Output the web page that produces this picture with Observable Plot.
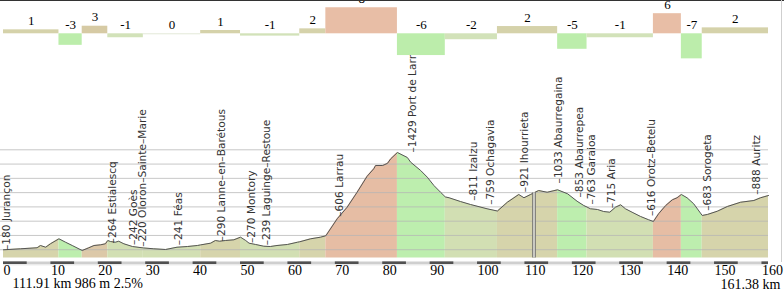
<!DOCTYPE html>
<html><head><meta charset="utf-8">
<script src="https://cdn.jsdelivr.net/npm/d3@7"></script>
<script src="https://cdn.jsdelivr.net/npm/@observablehq/plot@0.6"></script>
<style>
html,body{margin:0;padding:0;background:#fff;}
#wrap{position:relative;width:784px;height:292px;overflow:hidden;background:#fff;}
#wrap svg{position:absolute;left:0;top:0;}
.edge{position:absolute;}
</style></head><body><div id="wrap"></div>
<script>
// ---- profile (distance km, elevation m) ----
const profileKm = [0,3.6,7.1,7.8,8.9,9.9,11.7,13.1,14.5,16.6,18.0,19.1,20.5,21.5,22.0,22.6,23.6,24.3,25.4,27.2,29.5,31.7,34.2,36.6,38.8,40.9,41.6,43.7,44.7,45.6,46.8,48.6,50.0,51.1,51.8,53.2,54.9,56.3,57.7,59.9,62.0,62.5,64.8,66.9,68.0,70.4,72.5,74.6,76.7,78.1,78.5,80.0,81.0,81.7,83.1,85.2,85.9,88.0,89.4,90.8,92.2,93.2,94.0,96.4,98.5,102.0,104.2,106.3,108.7,109.8,111.2,112.9,114.7,116.9,119.0,121.0,122.4,123.1,123.8,125.3,126.6,127.9,129.1,130.2,131.2,132.6,134.4,136.1,137.1,138.2,139.7,141.1,142.1,143.0,144.2,145.6,147.4,148.5,150.6,152.7,155.5,158.3,159.7,161.38];
const profileElev = [182,195,208,237,215,259,323,279,237,173,208,237,246,259,301,288,279,292,259,224,206,195,186,215,224,237,245,267,301,292,301,310,344,301,267,250,228,224,237,250,279,285,323,344,362,580,728,920,1124,1220,1263,1263,1290,1349,1429,1365,1305,1199,1113,1006,920,860,849,801,763,708,679,792,891,849,891,942,920,951,900,805,750,730,708,699,673,664,728,759,708,664,609,567,545,644,750,823,849,891,849,772,622,635,677,737,792,814,849,878];

// ---- gradient segments ----
const segBounds = [0,11.7,16.6,22.0,29.5,41.6,50.0,62.5,68.0,83.1,93.2,104.2,116.9,123.1,137.1,143.0,147.4,161.38];
const segGrade  = [1.2,-3.5,2.3,-1.2,-0.3,1.0,-0.7,1.5,7.9,-6.6,-1.8,2.2,-4.7,-1.2,6.1,-7.6,1.8];
const segLabel  = [1,-3,3,-1,0,1,-1,2,8,-6,-2,2,-5,-1,6,-7,2];

// ---- places ----
const placeKm   = [0.6,23.0,27.5,29.4,37.0,46.0,52.3,55.4,70.9,86.3,99.1,102.8,109.9,117.0,121.5,124.0,128.3,136.7,148.6,158.9];
const placeElev = [180,264,242,220,241,290,270,239,606,1429,811,759,921,1033,853,763,715,616,683,888];
const placeName = ["Jurançon","Estialescq","Goès","Oloron–Sainte–Marie","Féas","Lanne–en–Barétous","Montory","Laguinge–Restoue","Larrau","Port de Larrau","Izalzu","Ochagavia","Ihourrieta","Abaurregaina","Abaurrepea","Garaioa","Aria","Orotz–Betelu","Sorogeta","Auritz"];

// ---- axes / grid / marker ----
const kmTicks = [0,10,20,30,40,50,60,70,80,90,100,110,120,130,140,150,160];
const gridElev = [183,366,549,732,915,1098,1281,1464];
const totalKm = 161.38;
const markerKm = 111.91, markerElev = 986, markerGrade = 2.5;
const floorElev = 77;

// bar colours by gradient class
function barColor(g) {
  if (g >= 5) return "#e8bea6";
  if (g <= -3) return "#bcedab";
  if (g >= 3) return "#d6caa4";
  if (g >= 1) return "#d5d2aa";
  if (g === 0) return "#e3e9d8";
  return "#d2e2b9";
}
// profile fill colours by gradient class
function fillColor(g) {
  if (g >= 5) return "#e6bda4";
  if (g <= -3) return "#bdeeae";
  if (g >= 3) return "#dcc8a8";
  if (g >= 1) return "#d6d4ab";
  return "#d2dfb3";
}

const profile = profileKm.map((k, i) => ({km: k, elev: profileElev[i]}));
const segments = segLabel.map((l, i) => ({start: segBounds[i], end: segBounds[i + 1], grade: segGrade[i], label: l}));
const places = placeKm.map((k, i) => ({km: k, elev: placeElev[i], name: placeName[i]}));
const elevAt = d3.scaleLinear(profileKm, profileElev);
const markerTop = elevAt(markerKm);

const serif = "Liberation Serif, Times New Roman, serif";

const areas = segments.map(s => Plot.areaY(
  profile.filter(p => p.km >= s.start && p.km <= s.end),
  {x: "km", y1: () => floorElev, y2: "elev", fill: fillColor(s.label)}
));

const profilePlot = Plot.plot({
  width: 784, height: 292,
  marginTop: 0, marginLeft: 0, marginRight: 16, marginBottom: 30,
  x: {domain: [0, totalKm], range: [3, 768], label: null},
  y: {domain: [0, 3378], range: [263.5, 0], axis: null, label: null},
  style: {background: "transparent", overflow: "visible"},
  marks: [
    ...areas,
    Plot.ruleY(gridElev, {stroke: "#b4b4b4", strokeOpacity: 0.75}),
    Plot.line(profile, {x: "km", y: "elev", stroke: "#555", strokeWidth: 1}),
    Plot.ruleX([markerKm], {y1: () => floorElev, y2: () => markerTop, stroke: "#707070", strokeWidth: 3.6}),
    Plot.ruleX([markerKm], {y1: () => floorElev, y2: () => markerTop, stroke: "#f0f0e6", strokeWidth: 1.4}),
    Plot.text(places, {x: "km", y: "elev", text: d => "–" + d.elev + " " + d.name,
      rotate: -90, textAnchor: "start", lineAnchor: "middle",
      fontSize: 10.6, fontFamily: "DejaVu Sans", fill: "#333"}),
    Plot.ruleY([0], {x1: () => 0, x2: () => totalKm, stroke: "#e2e2e2", strokeWidth: 1, dy: 0.8}),
    Plot.ruleY([0], {x1: () => 0, x2: () => totalKm, stroke: "#cfcfcf", strokeWidth: 2.6, dy: -1.3}),
    Plot.ruleY(kmTicks.filter(t => t < totalKm), {y: () => 0, x1: d => d, x2: d => Math.min(d + 5, totalKm), stroke: "#505050", strokeWidth: 2.6, dy: -1.3}),
    Plot.axisX({ticks: kmTicks, anchor: "bottom", tickSize: 0, tickPadding: 3, textAnchor: "start",
      fontSize: 14, fontFamily: serif, fill: "#000", label: null, tickFormat: d => String(d)}),
    Plot.text([`${markerKm} km ${markerElev} m ${markerGrade}%`], {frameAnchor: "bottom-left", textAnchor: "start",
      lineAnchor: "bottom", dx: 12, dy: 25, fontSize: 14, fontFamily: serif, fill: "#000"}),
    Plot.text([`${totalKm} km`], {frameAnchor: "bottom-right", textAnchor: "end",
      lineAnchor: "bottom", dx: 12, dy: 26, fontSize: 14, fontFamily: serif, fill: "#000"})
  ]
});

const gradePlot = Plot.plot({
  width: 784, height: 60,
  marginTop: 0, marginLeft: 0, marginRight: 16, marginBottom: 0,
  x: {domain: [0, totalKm], range: [3, 768], axis: null, label: null},
  y: {domain: [-8.1, 10.1], axis: null, label: null},
  color: {type: "identity"},
  style: {background: "transparent", overflow: "visible"},
  marks: [
    Plot.rectY(segments, {x1: "start", x2: "end", y1: () => 0, y2: "grade", fill: d => barColor(d.label)}),
    Plot.text(segments, {x: d => (d.start + d.end) / 2, y: d => Math.max(d.grade, 0), text: d => String(d.label),
      lineAnchor: "bottom", dy: -5, fontSize: 13, fontFamily: serif, fill: "#000"})
  ]
});

const wrap = document.getElementById("wrap");
wrap.appendChild(profilePlot);
wrap.appendChild(gradePlot);
const topEdge = document.createElement("div");
topEdge.className = "edge";
topEdge.style.cssText = "left:0;top:0;width:784px;height:1px;background:#333;";
wrap.appendChild(topEdge);
const rightEdge = document.createElement("div");
rightEdge.className = "edge";
rightEdge.style.cssText = "left:781px;top:0;width:1px;height:262px;background:#cfcfcf;";
wrap.appendChild(rightEdge);
</script></body></html>
